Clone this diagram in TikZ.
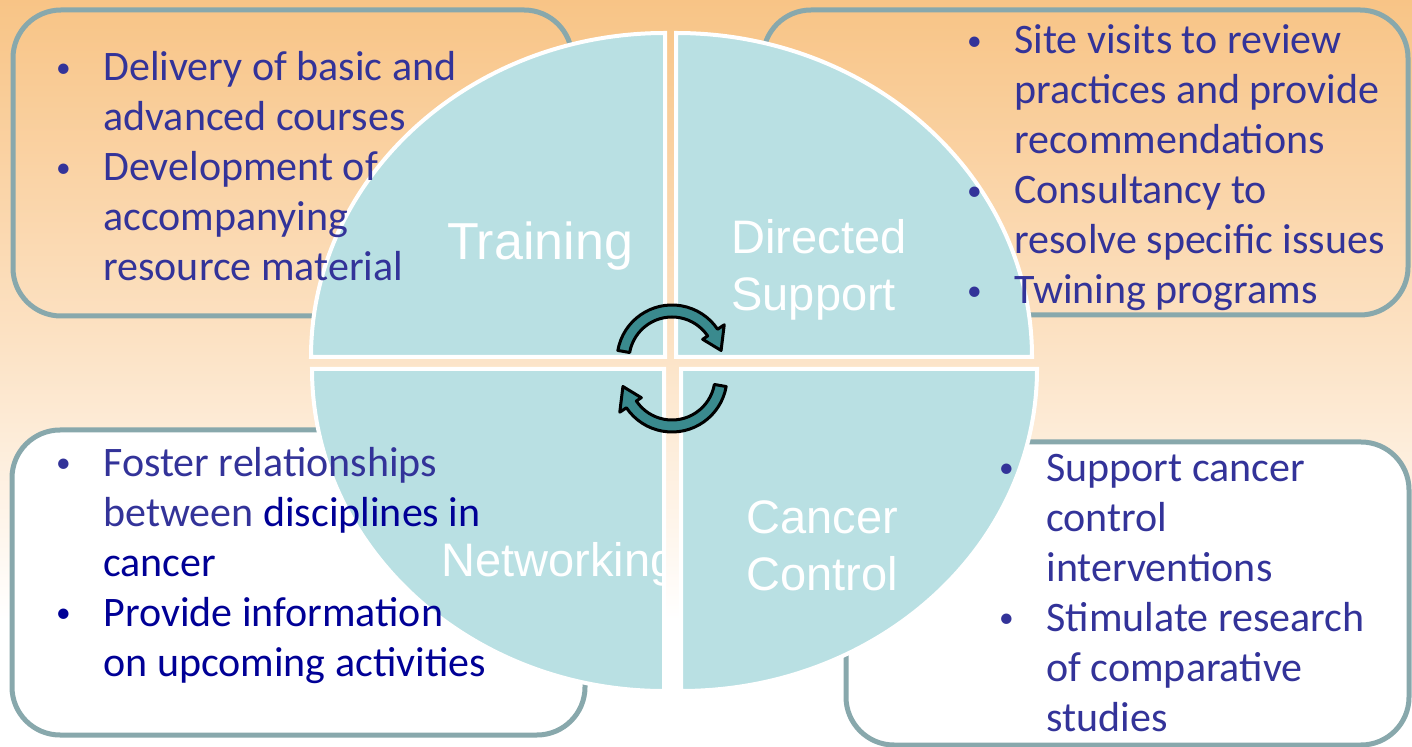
\documentclass[tikz,border=0pt]{standalone}
\usepackage{fontspec}
\setmainfont{Carlito}
\newfontfamily\labelfont{Liberation Sans}
\usepackage{graphicx}
\usepackage{tikz}
\usetikzlibrary{calc}
\definecolor{listblue}{RGB}{51, 51, 153}
\definecolor{listnavy}{RGB}{0, 0, 150}
\definecolor{boxline}{RGB}{136, 168, 172}
\definecolor{quadfill}{RGB}{185, 224, 227}
\definecolor{arrowteal}{RGB}{58, 138, 142}
\definecolor{bgorange}{RGB}{248, 196, 134}
\definecolor{bgpeach}{RGB}{252, 226, 196}

\newcommand{\bul}{\makebox[40pt][c]{\raisebox{0.08em}{\scalebox{0.7}{\textbullet}}}}
\newcommand{\cnt}{\hspace*{40pt}}

\begin{document}
\begin{tikzpicture}[x=0.5pt, y=-0.5pt,
		infobox/.style={draw=boxline, line width=2.5pt, rounded corners=24pt, inner sep=0pt},
		quadrant/.style={fill=quadfill, draw=white, line width=2pt},
		bullets/.style={anchor=base west, align=left, inner sep=0pt, text=listblue, font=\fontsize{21}{25}\selectfont},
		sector/.style={text=white, inner sep=0pt, align=left, font=\labelfont\fontsize{23.5}{28.5}\selectfont},
		turnarrow/.style={fill=arrowteal, draw=black, line width=1.5pt, line join=round}]
			\useasboundingbox (0,0) rectangle (1412,747);
			\shade[top color=bgorange, bottom color=bgpeach] (0,0) rectangle (1412,340);
			\shade[top color=bgpeach, bottom color=white] (0,340) rectangle (1412,620);
			\fill[white] (0,620) rectangle (1412,747);

			\node[infobox, minimum width=279.5pt, minimum height=153pt] (trainbox) at (292.5,163) {};
			\node[infobox, minimum width=322.5pt, minimum height=152.5pt] (directbox) at (1085.5,162.5) {};
			\node[infobox, fill=white, minimum width=286.5pt, minimum height=152.5pt] (netbox) at (298.5,582.5) {};
			\node[infobox, fill=white, minimum width=281.5pt, minimum height=151.5pt] (controlbox) at (1127.5,593.5) {};

			\draw[quadrant] (665,357) -- (311,357) arc[start angle=180, end angle=270, x radius=354, y radius=324] -- cycle;
			\draw[quadrant] (676,357) -- (676,33) arc[start angle=270, end angle=360, x radius=356, y radius=324] -- cycle;
			\draw[quadrant] (664,369) -- (312,369) arc[start angle=180, end angle=90, x radius=352, y radius=322] -- cycle;
			\draw[quadrant] (681,369) -- (1037,369) arc[start angle=0, end angle=90, x radius=356, y radius=322] -- cycle;

			% base anchor of a multi-line node sits on its last line
			\node[sector, anchor=base, font=\labelfont\fontsize{26}{30}\selectfont] (training) at (540,260) {Training};
			\node[sector, anchor=base west] (directed) at (731,311) {Directed\\Support};
			\node[sector, anchor=base west] (cancerctl) at (746,591) {Cancer\\Control};
			\begin{scope}
				\clip (0,0) rectangle (664,747);
				\node[sector, anchor=base west] (networking) at (441,577) {Networking};
			\end{scope}

			\node[bullets] (trainlist) at (23,281) {\bul Delivery of basic and\\ \cnt advanced courses\\ \bul Development of\\ \cnt accompanying\\ \cnt resource material};
			\node[bullets] (directlist) at (934,304) {\bul Site visits to review\\ \cnt practices and provide\\ \cnt recommendations\\ \bul Consultancy to\\ \cnt resolve specific issues\\ \bul Twining programs};
			\node[bullets] (netlist) at (23,676) {\bul Foster relationships\\ \cnt between \textcolor{listnavy}{disciplines in}\\ \textcolor{listnavy}{\cnt cancer}\\ \textcolor{listnavy}{\bul Provide information}\\ \textcolor{listnavy}{\cnt on upcoming activities}};
			\node[bullets] (controllist) at (966,731) {\bul Support cancer\\ \cnt control\\ \cnt interventions\\ \bul Stimulate research\\ \cnt of comparative\\ \cnt studies};

			\begin{scope}[shift={(672,360)}]
				\draw[turnarrow] (190:55) arc[start angle=190, end angle=326, radius=55] -- (326:63) -- (349:50) -- (326:37) -- (326:43) arc[start angle=326, end angle=190, radius=43] -- cycle;
			\end{scope}
			\begin{scope}[shift={(672,377)}]
				\draw[turnarrow] (10:55) arc[start angle=10, end angle=146, radius=55] -- (146:63) -- (169:50) -- (146:37) -- (146:43) arc[start angle=146, end angle=10, radius=43] -- cycle;
			\end{scope}
		\end{tikzpicture}
\end{document}
